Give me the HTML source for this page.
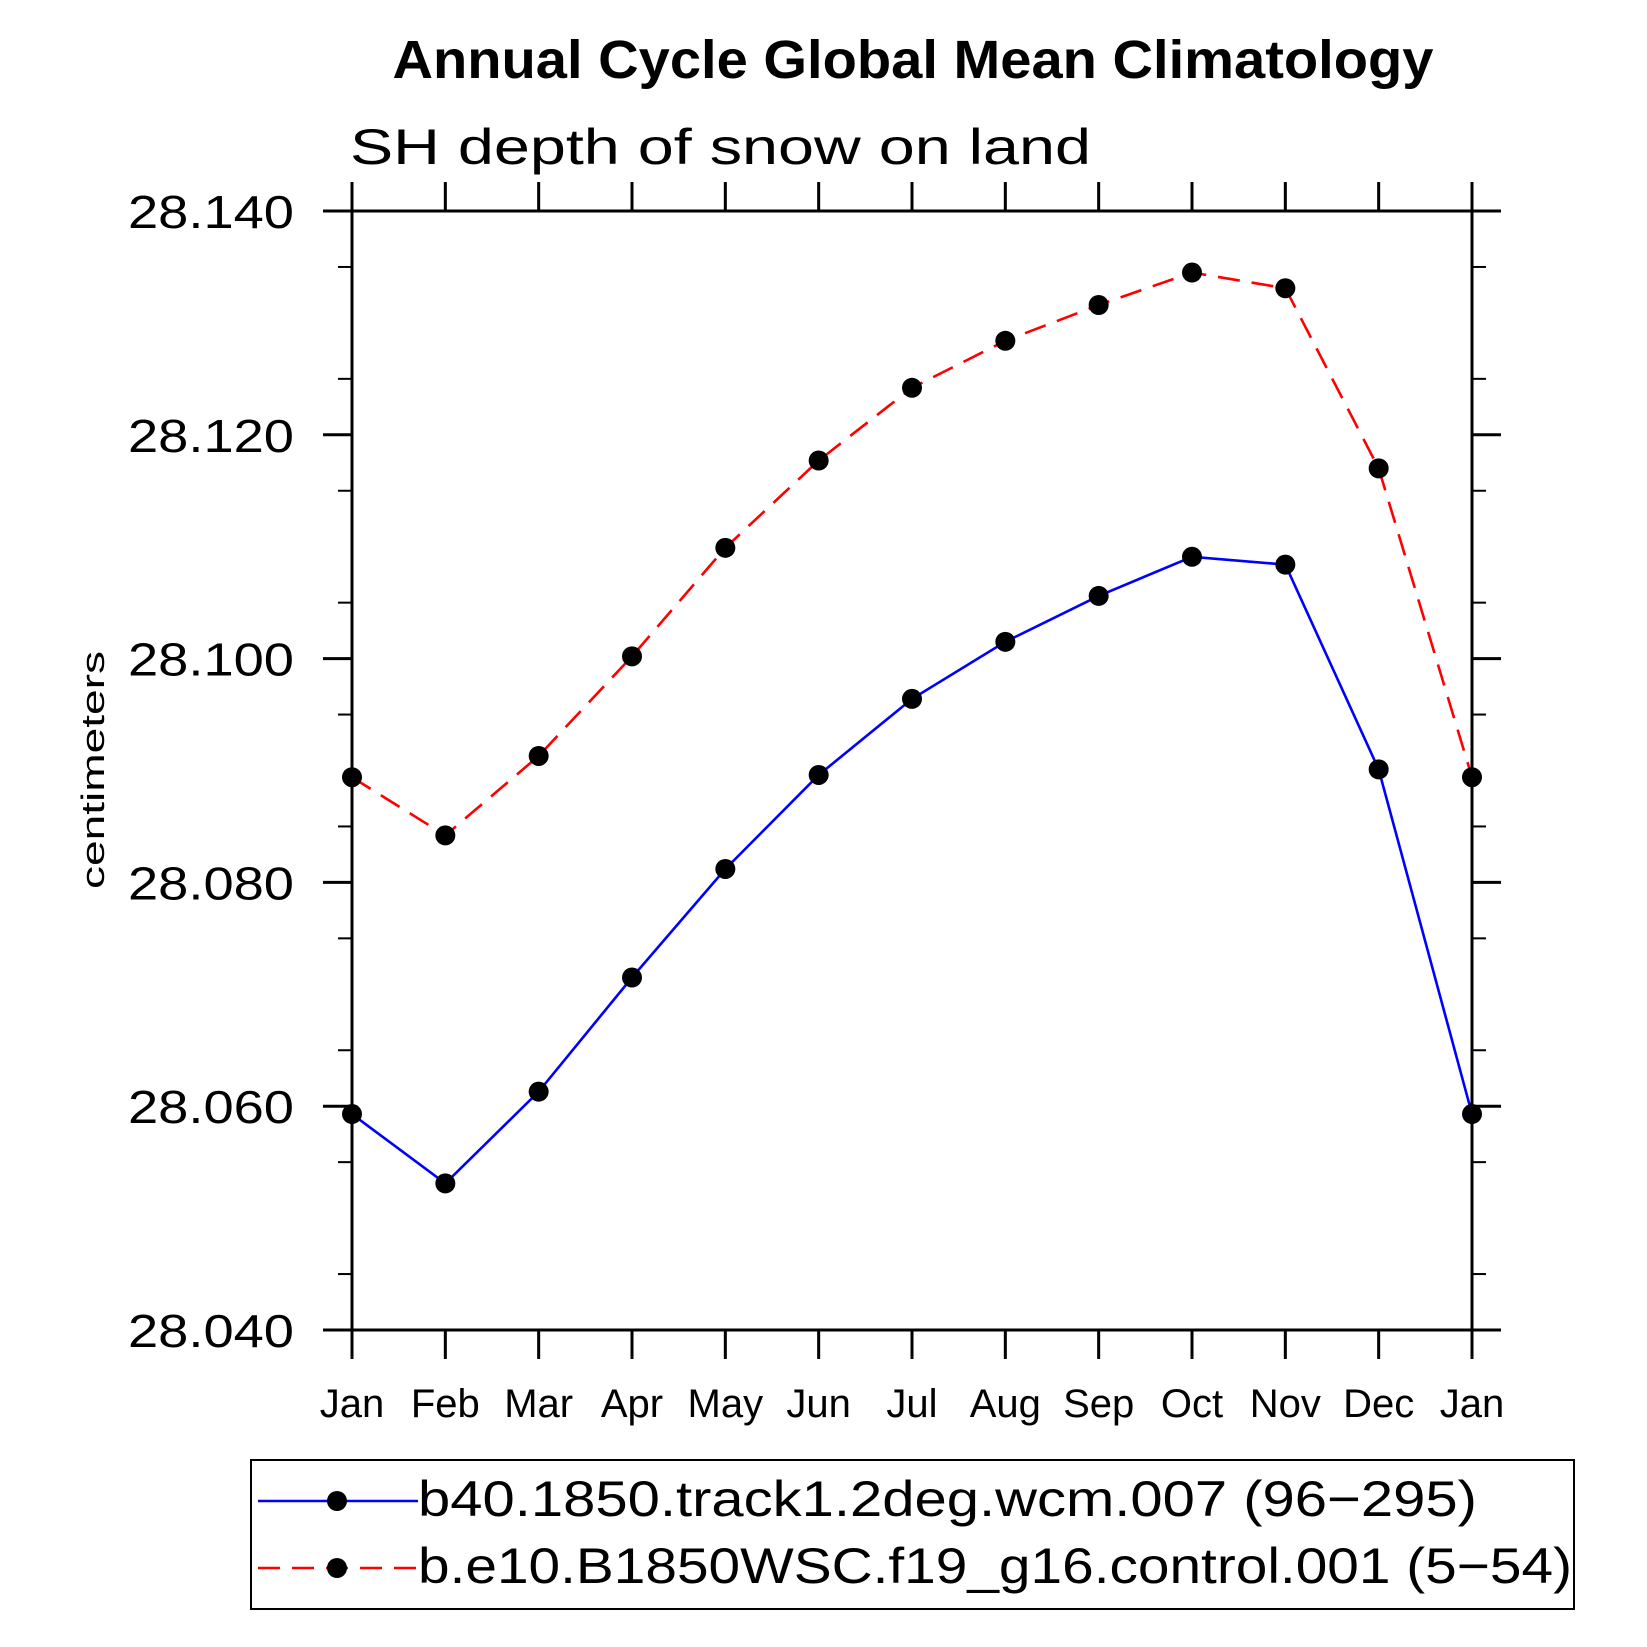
<!DOCTYPE html>
<html><head><meta charset="utf-8"><style>
html,body{margin:0;padding:0;background:#fff;}
svg{display:block;font-family:"Liberation Sans",sans-serif;}
</style></head><body>
<svg id="chart" width="1647" height="1647" xmlns="http://www.w3.org/2000/svg">
<text x="913" y="78" text-anchor="middle" font-size="54" font-weight="bold" textLength="1041" lengthAdjust="spacingAndGlyphs">Annual Cycle Global Mean Climatology</text>
<text x="350" y="164" font-size="50" textLength="741" lengthAdjust="spacingAndGlyphs">SH depth of snow on land</text>
<text transform="translate(104,770) rotate(-90)" text-anchor="middle" font-size="32" textLength="238" lengthAdjust="spacingAndGlyphs">centimeters</text>
<g id="axes"></g>
<g id="series"></g>
<g>
<rect x="251" y="1460" width="1323" height="149" fill="none" stroke="#000" stroke-width="2"/>
<g>
<line x1="258" y1="1501" x2="418" y2="1501" stroke="#0000ff" stroke-width="2.5"/>
<circle cx="337" cy="1501" r="10" fill="#000"/>
<text x="418" y="1516" font-size="50" textLength="1059" lengthAdjust="spacingAndGlyphs">b40.1850.track1.2deg.wcm.007 (96−295)</text>
</g>
<g>
<line x1="258" y1="1568" x2="418" y2="1568" stroke="#ff0000" stroke-width="2.5" stroke-dasharray="22,12"/>
<circle cx="337" cy="1568" r="10" fill="#000"/>
<text x="418" y="1583" font-size="50" textLength="1154" lengthAdjust="spacingAndGlyphs">b.e10.B1850WSC.f19_g16.control.001 (5−54)</text>
</g>
</g>
</svg>
<script>
const months = ["Jan","Feb","Mar","Apr","May","Jun","Jul","Aug","Sep","Oct","Nov","Dec","Jan"];
const seriesB40 = [28.0593,28.0531,28.0613,28.0715,28.0812,28.0896,28.0964,28.1015,28.1056,28.1091,28.1084,28.0901,28.0593];
const seriesBE10 = [28.0894,28.0842,28.0913,28.1002,28.1099,28.1177,28.1242,28.1284,28.1316,28.1345,28.1331,28.1170,28.0894];
const yTicks = ["28.040","28.060","28.080","28.100","28.120","28.140"];
const yMin = 28.040, yMax = 28.140;

const L=352,R=1472,T=211,B=1330;
const NS="http://www.w3.org/2000/svg";
function xs(i){return L+(R-L)*i/(months.length-1);}
function ys(v){return B-(B-T)*(v-yMin)/(yMax-yMin);}
function mk(tag,attrs,parent){const e=document.createElementNS(NS,tag);for(const k in attrs)e.setAttribute(k,attrs[k]);parent.appendChild(e);return e;}
const axes=document.getElementById('axes');
const frame=mk('rect',{x:L,y:T,width:R-L,height:B-T,fill:'none',stroke:'#000','stroke-width':3},axes);


months.forEach((m,i)=>{
  const x=xs(i);
  mk('line',{x1:x,y1:B,x2:x,y2:B+29,stroke:'#000','stroke-width':3},axes);
  mk('line',{x1:x,y1:T,x2:x,y2:T-29,stroke:'#000','stroke-width':3},axes);
  const t=mk('text',{x:x,y:1417,'text-anchor':'middle','font-size':40},axes);
  t.textContent=m;
  
  
});
yTicks.forEach(s=>{
  const y=ys(parseFloat(s));
  mk('line',{x1:L-29,y1:y,x2:L,y2:y,stroke:'#000','stroke-width':3},axes);
  mk('line',{x1:R,y1:y,x2:R+29,y2:y,stroke:'#000','stroke-width':3},axes);
  const t=mk('text',{x:294,y:y+17,'text-anchor':'end','font-size':46,textLength:166,lengthAdjust:'spacingAndGlyphs'},axes);
  t.textContent=s;
  
  
});
for(let v=yMin+0.005;v<yMax;v+=0.01){
  const y=ys(v);
  mk('line',{x1:L-14,y1:y,x2:L,y2:y,stroke:'#000','stroke-width':2},axes);
  mk('line',{x1:R,y1:y,x2:R+14,y2:y,stroke:'#000','stroke-width':2},axes);
}
const sg=document.getElementById('series');
function draw(data,color,dash,name){
  const pts=data.map((v,i)=>xs(i)+','+ys(v)).join(' ');
  const pl=mk('polyline',{points:pts,fill:'none',stroke:color,'stroke-width':2.6},sg);
  if(dash)pl.setAttribute('stroke-dasharray',dash);
  
  
  data.forEach((v,i)=>{
    const c=mk('circle',{cx:xs(i),cy:ys(v),r:10,fill:'#000'},sg);
    
    
  });
}
draw(seriesB40,'#0000ff',null,'b40-series');
draw(seriesBE10,'#ff0000','22,12','be10-series');
</script>
</body></html>
